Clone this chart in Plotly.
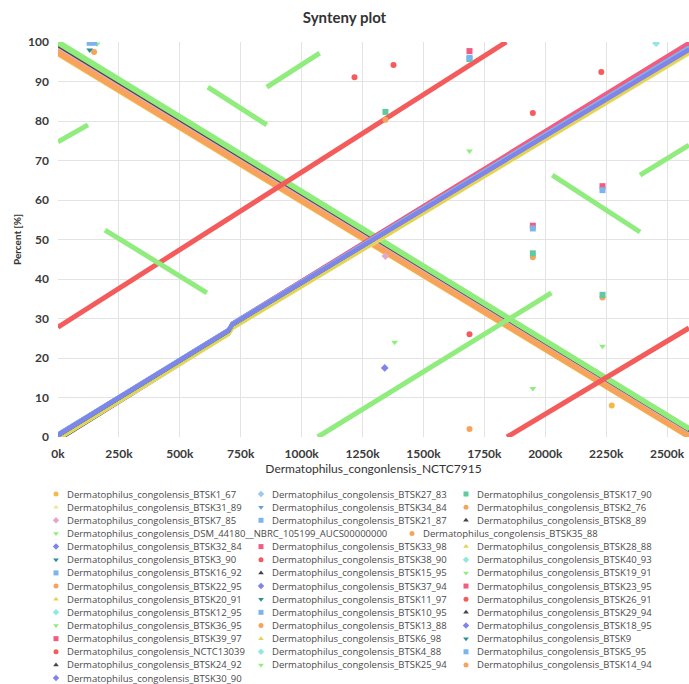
import plotly.graph_objects as go

# ---------------- legend / series definitions ----------------
names = [
    "Dermatophilus_congolensis_BTSK1_67", "Dermatophilus_congolensis_BTSK27_83", "Dermatophilus_congolensis_BTSK17_90",
    "Dermatophilus_congolensis_BTSK31_89", "Dermatophilus_congolensis_BTSK34_84", "Dermatophilus_congolensis_BTSK2_76",
    "Dermatophilus_congolensis_BTSK7_85", "Dermatophilus_congolensis_BTSK21_87", "Dermatophilus_congolensis_BTSK8_89",
    "Dermatophilus_congolensis_DSM_44180__NBRC_105199_AUCS00000000", "Dermatophilus_congolensis_BTSK35_88",
    "Dermatophilus_congolensis_BTSK32_84", "Dermatophilus_congolensis_BTSK33_98", "Dermatophilus_congolensis_BTSK28_88",
    "Dermatophilus_congolensis_BTSK3_90", "Dermatophilus_congolensis_BTSK38_90", "Dermatophilus_congolensis_BTSK40_93",
    "Dermatophilus_congolensis_BTSK16_92", "Dermatophilus_congolensis_BTSK15_95", "Dermatophilus_congolensis_BTSK19_91",
    "Dermatophilus_congolensis_BTSK22_95", "Dermatophilus_congolensis_BTSK37_94", "Dermatophilus_congolensis_BTSK23_95",
    "Dermatophilus_congolensis_BTSK20_91", "Dermatophilus_congolensis_BTSK11_97", "Dermatophilus_congolensis_BTSK26_91",
    "Dermatophilus_congolensis_BTSK12_95", "Dermatophilus_congolensis_BTSK10_95", "Dermatophilus_congolensis_BTSK29_94",
    "Dermatophilus_congolensis_BTSK36_95", "Dermatophilus_congolensis_BTSK13_88", "Dermatophilus_congolensis_BTSK18_95",
    "Dermatophilus_congolensis_BTSK39_97", "Dermatophilus_congolensis_BTSK6_98", "Dermatophilus_congolensis_BTSK9",
    "Dermatophilus_congolensis_NCTC13039", "Dermatophilus_congolensis_BTSK4_88", "Dermatophilus_congolensis_BTSK5_95",
    "Dermatophilus_congolensis_BTSK24_92", "Dermatophilus_congolensis_BTSK25_94", "Dermatophilus_congolensis_BTSK14_94",
    "Dermatophilus_congolensis_BTSK30_90",
]

colors = [
    "#f5b94a", "#9cc9ec", "#5fc9a0", "#ece89a", "#6a9fd8", "#f4a460", "#e6a6c8",
    "#7cb5ec", "#434348", "#90ed7d", "#f7a35c", "#8085e9", "#f15c80", "#e4d354", "#2b908f", "#f45b5b", "#91e8e1",
    "#7cb5ec", "#434348", "#90ed7d", "#f7a35c", "#8085e9", "#f15c80", "#e4d354", "#2b908f", "#f45b5b", "#91e8e1",
    "#7cb5ec", "#434348", "#90ed7d", "#f7a35c", "#8085e9", "#f15c80", "#e4d354", "#2b908f", "#f45b5b", "#91e8e1",
    "#7cb5ec", "#434348", "#90ed7d", "#f7a35c", "#8085e9",
]
symbol_cycle = ["circle", "diamond", "square", "triangle-up", "triangle-down"]

# ---------------- alignment data (x = position in NCTC7915 [bp], y = percent) ----------------
# collinear (ascending) alignments, shared breakpoints
asc_x = [0, 700000, 715000, 2590000]
# inverted (descending) alignments
desc_x = [0, 2590000]

BTSK27_83_y = [0.6, 27.0, 28.6, 98.7]
BTSK17_90_y = [0.5, 26.9, 28.4, 98.5]
BTSK31_89_y = [-0.6, 25.9, 27.4, 97.0]
BTSK34_84_y = [0.7, 27.1, 28.7, 98.6]
BTSK21_87_y = [0.8, 27.2, 28.8, 98.7]
BTSK32_84_y = [0.6, 27.1, 28.6, 98.2]
BTSK33_98_y = [0.6, 27.1, 28.7, 99.7]
BTSK28_88_y = [-0.3, 26.2, 27.7, 97.4]
BTSK3_90_y = [0.4, 26.8, 28.3, 98.3]
BTSK38_90_y = [0.5, 27.0, 28.6, 99.3]
BTSK40_93_y = [0.5, 27.0, 28.5, 98.4]
BTSK16_92_y = [0.7, 27.2, 28.7, 98.5]
BTSK15_95_y = [0.0, 26.5, 28.0, 97.8]
BTSK37_94_y = [0.5, 27.0, 28.5, 98.1]
BTSK23_95_y = [0.7, 27.2, 28.8, 99.9]
BTSK20_91_y = [-0.4, 26.0, 27.5, 97.2]
BTSK11_97_y = [0.3, 26.9, 28.4, 98.2]
BTSK26_91_y = [0.5, 27.0, 28.6, 99.1]
BTSK12_95_y = [0.6, 27.0, 28.6, 98.4]
BTSK10_95_y = [0.6, 27.1, 28.6, 98.4]
BTSK29_94_y = [0.1, 26.6, 28.1, 97.9]
BTSK18_95_y = [0.4, 26.9, 28.4, 98.0]
BTSK39_97_y = [0.6, 27.1, 28.7, 99.5]
BTSK6_98_y = [-0.2, 26.3, 27.8, 97.5]
BTSK9_y = [0.3, 26.8, 28.3, 98.2]
BTSK4_88_y = [0.5, 27.0, 28.5, 98.5]
BTSK5_95_y = [0.7, 27.1, 28.7, 98.6]
BTSK24_92_y = [-0.8, 26.1, 27.6, 97.7]
BTSK30_90_y = [0.4, 26.9, 28.4, 97.9]

BTSK1_67_y = [97.0, 0.0]
BTSK2_76_y = [97.3, 0.2]
BTSK35_88_y = [97.6, 0.4]
BTSK22_95_y = [97.9, 0.6]
BTSK13_88_y = [98.1, 0.8]
BTSK14_94_y = [97.4, 0.3]
BTSK7_85_y = [98.6, 1.3]
BTSK8_89_y = [98.9, 1.5]
BTSK36_95_y = [99.6, 1.9]
BTSK25_94_y = [100.2, 2.3]
BTSK19_91_y = [99.9, 2.1]

# NCTC13039: shifted origin (wraps around)
NCTC13039_x = [0, 1840000, None, 1843000, 2590000]
NCTC13039_y = [27.8, 100.0, None, 0.0, 27.6]

# DSM 44180 draft assembly: contig fragments
DSM_44180_x = [0, 123000, None, 193000, 611000, None, 615000, 857000, None, 857000, 1074000,
               None, 1066000, 2025000, None, 2029000, 2389000, None, 2389000, 2590000]
DSM_44180_y = [74.7, 79.0, None, 52.4, 36.5, None, 88.6, 79.0, None, 88.6, 97.2,
               None, 0.0, 36.5, None, 66.3, 51.9, None, 66.3, 73.9]

# isolated short matches (x, y) per strain
BTSK1_67_pts = ([2273000], [8.0])
BTSK2_76_pts = ([2235000], [35.3])
BTSK35_88_pts = ([1344000], [80.3])
BTSK22_95_pts = ([1689000], [2.0])
BTSK13_88_pts = ([148000], [97.5])
BTSK14_94_pts = ([1949000], [45.5])
BTSK7_85_pts = ([1344000], [45.8])
BTSK36_95_pts = ([1949000, 1382000], [12.3, 24.0])
BTSK25_94_pts = ([2235000], [23.0])
BTSK19_91_pts = ([1689000], [72.4])
BTSK17_90_pts = ([1344000, 1689000, 1949000, 2235000], [82.3, 95.7, 46.5, 36.0])
BTSK21_87_pts = ([130000], [99.8])
BTSK32_84_pts = ([1341000], [17.5])
BTSK33_98_pts = ([1689000], [97.7])
BTSK3_90_pts = ([130000], [98.0])
BTSK38_90_pts = ([1217000, 1949000], [91.1, 82.0])
BTSK40_93_pts = ([2455000], [99.7])
BTSK16_92_pts = ([148000, 2235000], [99.8, 62.5])
BTSK23_95_pts = ([1949000], [53.5])
BTSK26_91_pts = ([1377000, 1689000, 2230000], [94.2, 26.0, 92.4])
BTSK10_95_pts = ([1689000], [96.0])
BTSK39_97_pts = ([2235000], [63.5])
BTSK5_95_pts = ([1949000], [52.8])
DSM_44180_pts = ([160000], [99.5])

x_tickvals = [0, 250000, 500000, 750000, 1000000, 1250000, 1500000, 1750000, 2000000, 2250000, 2500000]
x_ticktext = ["0k", "250k", "500k", "750k", "1000k", "1250k", "1500k", "1750k", "2000k", "2250k", "2500k"]
y_tickvals = [0, 10, 20, 30, 40, 50, 60, 70, 80, 90, 100]

# ---------------- build table of series ----------------
def key(n):
    return n.replace("Dermatophilus_congolensis_", "")

series = {}  # short name -> (x list, y list)
asc = {
    "BTSK27_83": BTSK27_83_y, "BTSK17_90": BTSK17_90_y, "BTSK31_89": BTSK31_89_y, "BTSK34_84": BTSK34_84_y,
    "BTSK21_87": BTSK21_87_y, "BTSK32_84": BTSK32_84_y, "BTSK33_98": BTSK33_98_y, "BTSK28_88": BTSK28_88_y,
    "BTSK3_90": BTSK3_90_y, "BTSK38_90": BTSK38_90_y, "BTSK40_93": BTSK40_93_y, "BTSK16_92": BTSK16_92_y,
    "BTSK15_95": BTSK15_95_y, "BTSK37_94": BTSK37_94_y, "BTSK23_95": BTSK23_95_y, "BTSK20_91": BTSK20_91_y,
    "BTSK11_97": BTSK11_97_y, "BTSK26_91": BTSK26_91_y, "BTSK12_95": BTSK12_95_y, "BTSK10_95": BTSK10_95_y,
    "BTSK29_94": BTSK29_94_y, "BTSK18_95": BTSK18_95_y, "BTSK39_97": BTSK39_97_y, "BTSK6_98": BTSK6_98_y,
    "BTSK9": BTSK9_y, "BTSK4_88": BTSK4_88_y, "BTSK5_95": BTSK5_95_y, "BTSK24_92": BTSK24_92_y,
    "BTSK30_90": BTSK30_90_y,
}
desc = {
    "BTSK1_67": BTSK1_67_y, "BTSK2_76": BTSK2_76_y, "BTSK35_88": BTSK35_88_y, "BTSK22_95": BTSK22_95_y,
    "BTSK13_88": BTSK13_88_y, "BTSK14_94": BTSK14_94_y, "BTSK7_85": BTSK7_85_y, "BTSK8_89": BTSK8_89_y,
    "BTSK36_95": BTSK36_95_y, "BTSK25_94": BTSK25_94_y, "BTSK19_91": BTSK19_91_y,
}
pts = {
    "BTSK1_67": BTSK1_67_pts, "BTSK2_76": BTSK2_76_pts, "BTSK35_88": BTSK35_88_pts, "BTSK22_95": BTSK22_95_pts,
    "BTSK13_88": BTSK13_88_pts, "BTSK14_94": BTSK14_94_pts, "BTSK7_85": BTSK7_85_pts, "BTSK36_95": BTSK36_95_pts,
    "BTSK25_94": BTSK25_94_pts, "BTSK19_91": BTSK19_91_pts, "BTSK17_90": BTSK17_90_pts, "BTSK21_87": BTSK21_87_pts,
    "BTSK32_84": BTSK32_84_pts, "BTSK33_98": BTSK33_98_pts, "BTSK3_90": BTSK3_90_pts, "BTSK38_90": BTSK38_90_pts,
    "BTSK40_93": BTSK40_93_pts, "BTSK16_92": BTSK16_92_pts, "BTSK23_95": BTSK23_95_pts, "BTSK26_91": BTSK26_91_pts,
    "BTSK10_95": BTSK10_95_pts, "BTSK39_97": BTSK39_97_pts, "BTSK5_95": BTSK5_95_pts,
    "DSM_44180__NBRC_105199_AUCS00000000": DSM_44180_pts,
}
for k, yv in asc.items():
    series[k] = (list(asc_x), list(yv))
for k, yv in desc.items():
    series[k] = (list(desc_x), list(yv))
series["NCTC13039"] = (list(NCTC13039_x), list(NCTC13039_y))
series["DSM_44180__NBRC_105199_AUCS00000000"] = (list(DSM_44180_x), list(DSM_44180_y))

style = {}
for i, n in enumerate(names):
    style[key(n)] = (colors[i], symbol_cycle[i % 5])

fig = go.Figure()

# drawing order (bottom -> top)
draw_order = [
    # descending band
    "BTSK1_67", "BTSK2_76", "BTSK14_94", "BTSK35_88", "BTSK22_95", "BTSK13_88", "BTSK7_85", "BTSK8_89",
    "BTSK36_95", "BTSK19_91", "BTSK25_94",
    "NCTC13039", "DSM_44180__NBRC_105199_AUCS00000000",
    # ascending band
    "BTSK15_95", "BTSK29_94", "BTSK24_92", "BTSK31_89", "BTSK28_88", "BTSK20_91", "BTSK6_98",
    "BTSK26_91", "BTSK38_90", "BTSK39_97", "BTSK33_98", "BTSK23_95",
    "BTSK3_90", "BTSK11_97", "BTSK9", "BTSK17_90", "BTSK40_93", "BTSK12_95", "BTSK4_88", "BTSK27_83",
    "BTSK34_84", "BTSK21_87", "BTSK16_92", "BTSK10_95", "BTSK5_95",
    "BTSK32_84", "BTSK37_94", "BTSK18_95", "BTSK30_90",
]
wide = {"BTSK1_67": 5, "BTSK2_76": 5, "BTSK14_94": 5, "BTSK35_88": 5, "BTSK22_95": 5, "BTSK13_88": 5,
        "NCTC13039": 5, "DSM_44180__NBRC_105199_AUCS00000000": 5, "BTSK36_95": 4, "BTSK19_91": 4,
        "BTSK25_94": 4, "BTSK8_89": 2, "BTSK7_85": 2.5}
for k in draw_order:
    col, sym = style[k]
    x, y = series[k]
    fig.add_trace(go.Scatter(x=x, y=y, mode="lines", line=dict(color=col, width=wide.get(k, 3.5)),
                             name=k, showlegend=False, hoverinfo="skip"))
for k in draw_order:
    if k in pts:
        col, sym = style[k]
        px_, py_ = pts[k]
        fig.add_trace(go.Scatter(x=px_, y=py_, mode="markers",
                                 marker=dict(color=col, symbol=sym, size=6, line=dict(width=0)),
                                 name=k, showlegend=False))

# ---------------- custom legend (tight rows) ----------------
W, H = 689, 684
col_mx = [56, 261, 466]
row_y0, row_dy = 494, 13.15
lx, ly, lc, ls = [], [], [], []
row, col, after_wide = 0, 0, False
ann = []
for i, n in enumerate(names):
    if after_wide:
        mx = 412
        after_wide = False
        adv_row = True
    else:
        mx = col_mx[col]
        adv_row = False
    yy = row_y0 + row * row_dy
    lx.append(mx); ly.append(yy); lc.append(colors[i]); ls.append(symbol_cycle[i % 5])
    ann.append(dict(x=mx + 9, y=yy, xref="x2", yref="y2", text=n, showarrow=False, xanchor="left",
                    yanchor="middle", font=dict(family="Open Sans", size=9.5, color="#4a4a4a")))
    if adv_row:
        row += 1; col = 0
    elif len(n) > 45:
        after_wide = True
    else:
        col += 1
        if col == 3:
            col = 0; row += 1

fig.add_trace(go.Scatter(x=lx, y=ly, mode="markers", xaxis="x2", yaxis="y2",
                         marker=dict(color=lc, symbol=ls, size=5, line=dict(width=0)),
                         showlegend=False, hoverinfo="skip"))

L, T, B = 58, 42, 437
fig.update_layout(
    width=W, height=H,
    margin=dict(l=0, r=0, t=0, b=0),
    paper_bgcolor="white", plot_bgcolor="white",
    showlegend=False,
    title=dict(text="<b>Synteny plot</b>", x=0.5, xanchor="center", y=1 - 18 / H, yanchor="middle",
               yref="container", font=dict(family="Lato", size=15, color="#333333")),
    xaxis=dict(domain=[L / W, 1], range=[0, 2590000], tickvals=x_tickvals, ticktext=x_ticktext,
               showgrid=True, gridcolor="#e3e3e3", gridwidth=1, zeroline=False, showline=False,
               ticks="", ticklabelstandoff=8, automargin=False,
               tickfont=dict(family="Lato", size=12, color="#3a3a3a", weight="bold"),
               title=dict(text="Dermatophilus_congonlensis_NCTC7915", standoff=2,
                          font=dict(family="Lato", size=12, color="#333333"))),
    yaxis=dict(domain=[(H - B) / H, (H - T) / H], range=[0, 100], tickvals=y_tickvals,
               showgrid=True, gridcolor="#e3e3e3", gridwidth=1, zeroline=False, showline=False,
               ticks="", ticklabelstandoff=8, automargin=False,
               tickfont=dict(family="Lato", size=12, color="#3a3a3a", weight="bold"),
               title=dict(text="<b>Percent [%]</b>", standoff=4,
                          font=dict(family="Lato", size=10, color="#333333"))),
    xaxis2=dict(domain=[0, 1], range=[0, W], visible=False, anchor="y2", fixedrange=True),
    yaxis2=dict(domain=[0, (H - 484) / H], range=[H, 484], visible=False, anchor="x2", fixedrange=True),
    annotations=ann,
)

fig.write_html("out.html", config={"displayModeBar": False},
               post_script="document.body.style.margin='0';document.body.style.overflow='hidden';")
